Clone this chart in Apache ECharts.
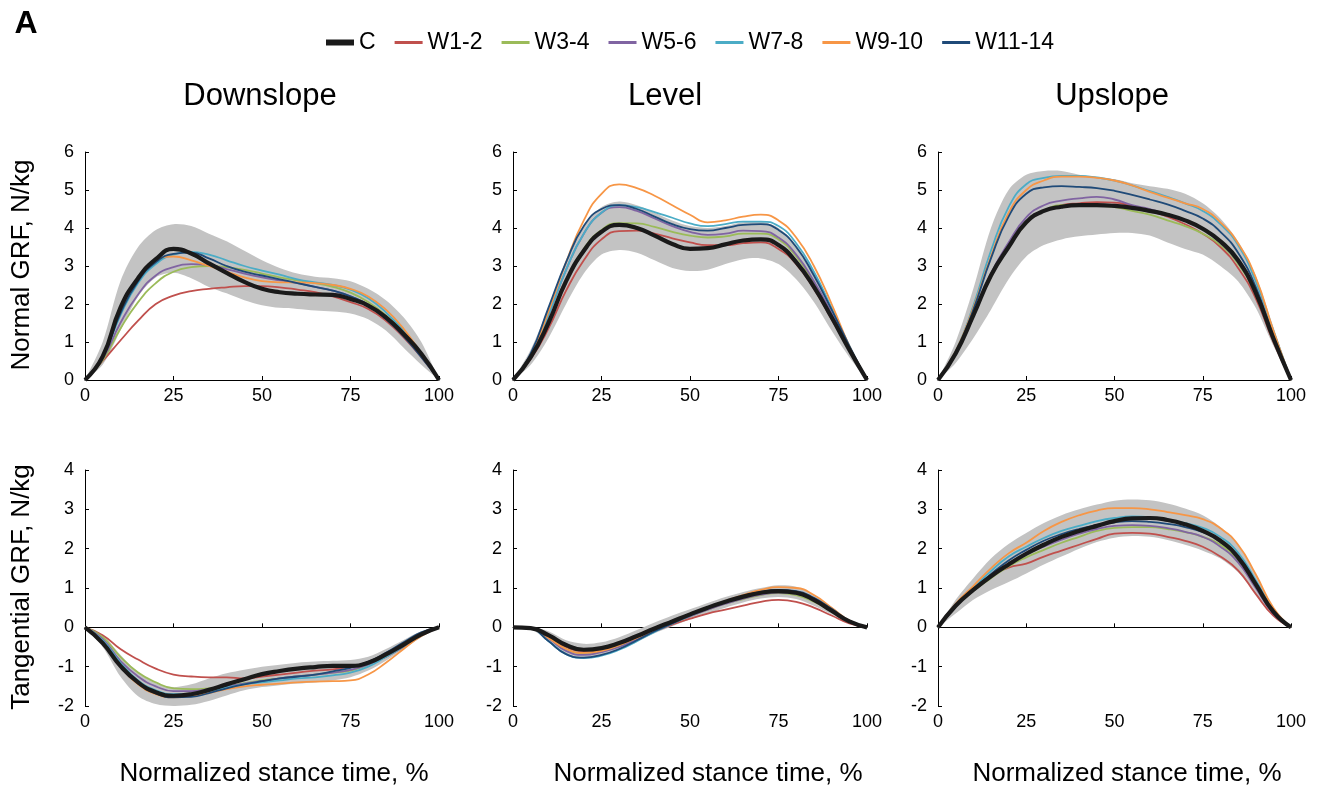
<!DOCTYPE html>
<html>
<head>
<meta charset="utf-8">
<script src="https://cdn.jsdelivr.net/npm/echarts@6/dist/echarts.min.js"></script>
<style>
  html, body { margin: 0; padding: 0; background: #fff; }
  #chart { width: 1317px; height: 790px; }
</style>
</head>
<body>
<div id="chart"></div>
<script>
// GRF curves by slope, mean lines per group + grey SD band of the control group
const xs = [0, 5, 10, 15, 20, 25, 30, 35, 40, 45, 50, 55, 60, 65, 70, 75, 80, 85, 90, 95, 100];
const groups = ['C', 'W1-2', 'W3-4', 'W5-6', 'W7-8', 'W9-10', 'W11-14'];
const groupColors = ['#1a1a1a', '#c0504d', '#9bbb59', '#8064a2', '#4bacc6', '#f79646', '#1f4a78'];
const panelTitles = ['Downslope', 'Level', 'Upslope'];

// Downslope, normal GRF (rows follow groups order)
const downNormal = [
  [0, 0.62, 1.9, 2.68, 3.18, 3.45, 3.33, 3.07, 2.82, 2.58, 2.4, 2.31, 2.27, 2.25, 2.24, 2.13, 1.96, 1.65, 1.21, 0.69, 0],
  [0, 0.5, 1.04, 1.56, 2.0, 2.22, 2.34, 2.4, 2.44, 2.47, 2.47, 2.44, 2.38, 2.31, 2.2, 2.05, 1.87, 1.56, 1.12, 0.6, 0],
  [0, 0.52, 1.35, 2.05, 2.55, 2.85, 2.97, 3.0, 2.97, 2.9, 2.8, 2.7, 2.62, 2.55, 2.45, 2.3, 2.05, 1.7, 1.25, 0.65, 0],
  [0, 0.56, 1.5, 2.25, 2.75, 2.97, 3.05, 3.03, 2.92, 2.8, 2.7, 2.62, 2.55, 2.45, 2.35, 2.2, 1.98, 1.65, 1.2, 0.65, 0],
  [0, 0.6, 1.7, 2.55, 3.05, 3.3, 3.37, 3.3, 3.15, 3.0, 2.88, 2.77, 2.65, 2.57, 2.5, 2.38, 2.15, 1.78, 1.3, 0.7, 0],
  [0, 0.65, 1.85, 2.7, 3.15, 3.25, 3.15, 3.0, 2.85, 2.7, 2.6, 2.57, 2.57, 2.55, 2.5, 2.4, 2.2, 1.85, 1.35, 0.7, 0],
  [0, 0.62, 1.75, 2.6, 3.1, 3.32, 3.35, 3.2, 3.0, 2.85, 2.75, 2.65, 2.55, 2.45, 2.35, 2.2, 1.98, 1.6, 1.15, 0.6, 0]
];
const downNormalLow = [0, 0.4, 1.3, 2.2, 2.7, 2.82, 2.68, 2.45, 2.28, 2.1, 1.97, 1.9, 1.87, 1.83, 1.8, 1.75, 1.6, 1.3, 0.85, 0.4, 0];
const downNormalHigh = [0, 1.0, 2.6, 3.5, 3.95, 4.1, 4.05, 3.85, 3.65, 3.4, 3.15, 2.95, 2.8, 2.72, 2.68, 2.6, 2.4, 2.1, 1.65, 1.0, 0];

// Level, normal GRF
const levelNormal = [
  [0, 0.6, 1.5, 2.6, 3.4, 3.9, 4.08, 4.0, 3.8, 3.58, 3.45, 3.47, 3.57, 3.67, 3.7, 3.55, 3.1, 2.45, 1.65, 0.8, 0],
  [0, 0.55, 1.35, 2.35, 3.15, 3.7, 3.92, 3.93, 3.85, 3.73, 3.62, 3.55, 3.55, 3.6, 3.62, 3.45, 3.05, 2.4, 1.6, 0.8, 0],
  [0, 0.6, 1.5, 2.6, 3.45, 3.95, 4.13, 4.12, 4.03, 3.9, 3.8, 3.75, 3.78, 3.85, 3.85, 3.7, 3.25, 2.55, 1.7, 0.85, 0],
  [0, 0.65, 1.7, 2.9, 3.85, 4.4, 4.55, 4.45, 4.25, 4.05, 3.9, 3.82, 3.85, 3.93, 3.92, 3.75, 3.3, 2.6, 1.75, 0.85, 0],
  [0, 0.65, 1.7, 2.9, 3.85, 4.4, 4.6, 4.55, 4.42, 4.27, 4.12, 4.05, 4.1, 4.17, 4.17, 4.05, 3.6, 2.85, 1.9, 0.9, 0],
  [0, 0.65, 1.8, 3.1, 4.2, 4.9, 5.15, 5.05, 4.85, 4.6, 4.35, 4.15, 4.2, 4.3, 4.35, 4.2, 3.75, 3.0, 2.0, 0.9, 0],
  [0, 0.7, 1.9, 3.1, 4.05, 4.5, 4.6, 4.5, 4.3, 4.1, 3.97, 3.93, 4.0, 4.08, 4.1, 3.95, 3.5, 2.75, 1.85, 0.9, 0]
];
const levelNormalLow = [0, 0.4, 1.1, 2.0, 2.8, 3.3, 3.42, 3.35, 3.15, 2.95, 2.87, 2.9, 3.05, 3.18, 3.2, 3.05, 2.65, 2.05, 1.3, 0.6, 0];
const levelNormalHigh = [0, 0.8, 1.9, 3.1, 4.05, 4.55, 4.7, 4.6, 4.4, 4.2, 4.05, 4.0, 4.05, 4.15, 4.17, 4.0, 3.55, 2.85, 1.9, 0.95, 0];

// Upslope, normal GRF
const upNormal = [
  [0, 0.7, 1.7, 2.75, 3.5, 4.15, 4.45, 4.56, 4.6, 4.6, 4.58, 4.53, 4.45, 4.35, 4.2, 3.98, 3.65, 3.15, 2.3, 1.1, 0],
  [0, 0.68, 1.68, 2.72, 3.48, 4.12, 4.45, 4.6, 4.65, 4.68, 4.67, 4.58, 4.45, 4.3, 4.1, 3.85, 3.5, 2.95, 2.15, 1.0, 0],
  [0, 0.68, 1.68, 2.72, 3.48, 4.12, 4.45, 4.6, 4.6, 4.58, 4.55, 4.45, 4.35, 4.2, 4.05, 3.85, 3.55, 3.05, 2.25, 1.05, 0],
  [0, 0.7, 1.72, 2.8, 3.62, 4.28, 4.6, 4.72, 4.78, 4.82, 4.75, 4.6, 4.5, 4.35, 4.2, 3.98, 3.6, 3.1, 2.3, 1.1, 0],
  [0, 0.75, 1.95, 3.4, 4.55, 5.15, 5.32, 5.37, 5.37, 5.33, 5.25, 5.12, 4.97, 4.82, 4.65, 4.45, 4.1, 3.55, 2.6, 1.3, 0],
  [0, 0.75, 1.9, 3.25, 4.4, 5.0, 5.25, 5.35, 5.35, 5.32, 5.25, 5.12, 4.95, 4.8, 4.65, 4.5, 4.15, 3.6, 2.7, 1.3, 0],
  [0, 0.72, 1.85, 3.2, 4.3, 4.9, 5.07, 5.1, 5.08, 5.05, 4.98, 4.87, 4.75, 4.62, 4.45, 4.25, 3.9, 3.35, 2.45, 1.15, 0]
];
const upNormalLow = [0, 0.45, 1.1, 1.85, 2.65, 3.25, 3.55, 3.7, 3.78, 3.83, 3.87, 3.87, 3.8, 3.62, 3.45, 3.3, 3.0, 2.6, 1.9, 0.9, 0];
const upNormalHigh = [0, 1.0, 2.4, 4.0, 5.0, 5.4, 5.5, 5.5, 5.4, 5.33, 5.28, 5.18, 5.1, 5.03, 4.9, 4.65, 4.25, 3.65, 2.75, 1.4, 0];

// Downslope, tangential GRF
const downTang = [
  [0, -0.4, -0.98, -1.4, -1.65, -1.74, -1.7, -1.59, -1.45, -1.32, -1.19, -1.11, -1.05, -1.01, -0.98, -0.98, -0.9, -0.69, -0.44, -0.18, 0],
  [0, -0.2, -0.55, -0.82, -1.05, -1.2, -1.25, -1.27, -1.27, -1.3, -1.25, -1.2, -1.15, -1.1, -1.07, -1.0, -0.9, -0.72, -0.47, -0.2, 0],
  [0, -0.25, -0.75, -1.15, -1.4, -1.55, -1.57, -1.55, -1.5, -1.42, -1.35, -1.3, -1.25, -1.2, -1.15, -1.1, -0.95, -0.75, -0.5, -0.2, 0],
  [0, -0.3, -0.85, -1.25, -1.5, -1.62, -1.62, -1.57, -1.5, -1.43, -1.37, -1.3, -1.25, -1.2, -1.15, -1.08, -0.95, -0.75, -0.5, -0.2, 0],
  [0, -0.33, -0.9, -1.35, -1.6, -1.7, -1.7, -1.62, -1.53, -1.45, -1.4, -1.35, -1.3, -1.27, -1.22, -1.15, -1.0, -0.75, -0.48, -0.18, 0],
  [0, -0.4, -1.0, -1.45, -1.7, -1.78, -1.75, -1.67, -1.57, -1.5, -1.46, -1.43, -1.4, -1.38, -1.37, -1.35, -1.2, -0.9, -0.55, -0.22, 0],
  [0, -0.38, -0.97, -1.42, -1.68, -1.78, -1.77, -1.67, -1.55, -1.45, -1.37, -1.3, -1.25, -1.2, -1.12, -1.03, -0.88, -0.65, -0.38, -0.13, 0]
];
const downTangLow = [0, -0.5, -1.25, -1.75, -1.95, -2.0, -1.97, -1.87, -1.73, -1.6, -1.52, -1.47, -1.43, -1.4, -1.35, -1.27, -1.1, -0.85, -0.55, -0.25, 0];
const downTangHigh = [0, -0.2, -0.7, -1.15, -1.42, -1.52, -1.45, -1.3, -1.17, -1.08, -1.0, -0.95, -0.9, -0.87, -0.85, -0.83, -0.75, -0.55, -0.32, -0.1, 0];

// Level, tangential GRF
const levelTang = [
  [0, -0.02, -0.2, -0.45, -0.57, -0.53, -0.4, -0.22, -0.03, 0.15, 0.33, 0.5, 0.65, 0.78, 0.88, 0.92, 0.88, 0.7, 0.42, 0.15, 0],
  [0, -0.02, -0.25, -0.5, -0.6, -0.57, -0.45, -0.28, -0.1, 0.07, 0.22, 0.35, 0.45, 0.55, 0.65, 0.7, 0.65, 0.5, 0.3, 0.1, 0],
  [0, -0.02, -0.25, -0.55, -0.65, -0.6, -0.47, -0.28, -0.08, 0.1, 0.28, 0.45, 0.6, 0.72, 0.82, 0.87, 0.82, 0.65, 0.4, 0.13, 0],
  [0, -0.02, -0.28, -0.6, -0.7, -0.63, -0.5, -0.3, -0.1, 0.1, 0.28, 0.45, 0.6, 0.73, 0.83, 0.88, 0.85, 0.68, 0.42, 0.14, 0],
  [0, -0.03, -0.35, -0.68, -0.78, -0.72, -0.57, -0.35, -0.12, 0.1, 0.3, 0.48, 0.64, 0.78, 0.88, 0.93, 0.9, 0.72, 0.45, 0.15, 0],
  [0, -0.02, -0.27, -0.55, -0.65, -0.6, -0.45, -0.27, -0.07, 0.13, 0.32, 0.5, 0.67, 0.82, 0.95, 1.02, 1.0, 0.82, 0.5, 0.17, 0],
  [0, -0.03, -0.35, -0.68, -0.77, -0.7, -0.55, -0.33, -0.1, 0.1, 0.3, 0.48, 0.65, 0.8, 0.9, 0.95, 0.92, 0.75, 0.47, 0.16, 0]
];
const levelTangLow = [0, -0.05, -0.35, -0.68, -0.78, -0.72, -0.57, -0.37, -0.15, 0.03, 0.2, 0.35, 0.5, 0.63, 0.73, 0.77, 0.72, 0.55, 0.33, 0.1, 0];
const levelTangHigh = [0, 0, -0.1, -0.33, -0.42, -0.38, -0.25, -0.07, 0.12, 0.3, 0.46, 0.62, 0.77, 0.9, 1.0, 1.07, 1.03, 0.83, 0.52, 0.2, 0];

// Upslope, tangential GRF
const upTang = [
  [0, 0.55, 0.95, 1.3, 1.6, 1.87, 2.1, 2.3, 2.45, 2.58, 2.7, 2.77, 2.78, 2.73, 2.62, 2.45, 2.2, 1.78, 1.1, 0.4, 0],
  [0, 0.55, 0.95, 1.3, 1.52, 1.62, 1.8, 1.95, 2.1, 2.25, 2.38, 2.4, 2.38, 2.3, 2.2, 2.05, 1.8, 1.45, 0.85, 0.3, 0],
  [0, 0.55, 0.93, 1.25, 1.55, 1.78, 1.97, 2.15, 2.3, 2.45, 2.53, 2.55, 2.55, 2.5, 2.42, 2.3, 2.1, 1.7, 1.05, 0.38, 0],
  [0, 0.55, 0.97, 1.3, 1.62, 1.87, 2.05, 2.23, 2.38, 2.5, 2.58, 2.6, 2.58, 2.52, 2.43, 2.3, 2.05, 1.65, 1.0, 0.35, 0],
  [0, 0.57, 1.0, 1.43, 1.8, 2.05, 2.27, 2.45, 2.58, 2.7, 2.78, 2.82, 2.8, 2.73, 2.65, 2.53, 2.3, 1.9, 1.2, 0.45, 0],
  [0, 0.6, 1.05, 1.5, 1.88, 2.15, 2.45, 2.68, 2.85, 2.97, 3.03, 3.03, 3.0, 2.93, 2.85, 2.75, 2.52, 2.1, 1.35, 0.5, 0],
  [0, 0.55, 0.97, 1.35, 1.7, 1.97, 2.2, 2.37, 2.5, 2.6, 2.67, 2.7, 2.68, 2.63, 2.55, 2.42, 2.2, 1.8, 1.12, 0.4, 0]
];
const upTangLow = [0, 0.35, 0.7, 0.95, 1.15, 1.37, 1.6, 1.8, 2.0, 2.17, 2.28, 2.32, 2.3, 2.22, 2.1, 1.95, 1.75, 1.4, 0.85, 0.3, 0];
const upTangHigh = [0, 0.7, 1.25, 1.75, 2.12, 2.4, 2.65, 2.85, 3.0, 3.12, 3.22, 3.25, 3.23, 3.15, 3.02, 2.85, 2.55, 2.1, 1.35, 0.5, 0];

const FONT = 'Liberation Sans, Arial, sans-serif';

const panels = [
  { lines: downNormal, low: downNormalLow, high: downNormalHigh, row: 0, col: 0 },
  { lines: levelNormal, low: levelNormalLow, high: levelNormalHigh, row: 0, col: 1 },
  { lines: upNormal, low: upNormalLow, high: upNormalHigh, row: 0, col: 2 },
  { lines: downTang, low: downTangLow, high: downTangHigh, row: 1, col: 0 },
  { lines: levelTang, low: levelTangLow, high: levelTangHigh, row: 1, col: 1 },
  { lines: upTang, low: upTangLow, high: upTangHigh, row: 1, col: 2 }
];

const colLeft = [85, 513, 938];
const colWidth = [354, 354, 353];
const rowTop = [152, 470];
const rowHeight = [228, 236];

const pairs = ys => xs.map((x, i) => [x, ys[i]]);

const grids = [], xAxes = [], yAxes = [], series = [];

panels.forEach((p, idx) => {
  grids.push({
    left: colLeft[p.col], top: rowTop[p.row],
    width: colWidth[p.col], height: rowHeight[p.row]
  });
  xAxes.push({
    gridIndex: idx, type: 'value', min: 0, max: 100, interval: 25,
    axisLine: { onZero: true, lineStyle: { color: '#000', width: 1 } },
    axisTick: { show: true, inside: true, length: 4, lineStyle: { color: '#000' } },
    axisLabel: { color: '#000', fontSize: 18, fontFamily: FONT, margin: 7 },
    splitLine: { show: false }
  });
  yAxes.push({
    gridIndex: idx, type: 'value',
    min: p.row === 0 ? 0 : -2, max: p.row === 0 ? 6 : 4, interval: 1,
    axisLine: { show: true, onZero: false, lineStyle: { color: '#000', width: 1 } },
    axisTick: { show: true, inside: true, length: 4, lineStyle: { color: '#000' } },
    axisLabel: { color: '#000', fontSize: 18, fontFamily: FONT, margin: 11 },
    splitLine: { show: false }
  });

  // grey SD band as one polygon, corners mapped through the axes
  const low = p.low, high = p.high;
  series.push({
    type: 'custom', xAxisIndex: idx, yAxisIndex: idx, silent: true, z: 1,
    data: xs.map((x, i) => [x, low[i], high[i]]),
    renderItem: (params, api) => {
      if (params.dataIndex !== 0) return;
      const top = xs.map((x, i) => api.coord([x, high[i]]));
      const bot = xs.map((x, i) => api.coord([x, low[i]])).reverse();
      return {
        type: 'polygon',
        shape: { points: top.concat(bot), smooth: 0.3 },
        style: { fill: '#c3c3c3', stroke: null }
      };
    }
  });

  // group lines, control drawn last so it sits on top
  const order = [1, 2, 3, 4, 5, 6, 0];
  order.forEach(g => {
    series.push({
      name: groups[g], type: 'line', xAxisIndex: idx, yAxisIndex: idx,
      data: pairs(p.lines[g]), smooth: true, symbol: 'none',
      lineStyle: { color: groupColors[g], width: g === 0 ? 4.2 : 1.8 },
      itemStyle: { color: groupColors[g] },
      z: g === 0 ? 4 : 3
    });
  });
});

const textEl = (text, x, y, size, extra) => Object.assign({
  type: 'text', x: x, y: y,
  style: {
    text: text, fill: '#000', fontSize: size, fontFamily: FONT,
    align: 'center', verticalAlign: 'middle', textAlign: 'center', textVerticalAlign: 'middle'
  }
}, extra || {});

const graphics = [
  textEl('A', 26, 24, 32, {}),
  textEl(panelTitles[0], 260, 96, 31),
  textEl(panelTitles[1], 665, 96, 31),
  textEl(panelTitles[2], 1112, 96, 31),
  textEl('Normalized stance time, %', 274, 774, 26),
  textEl('Normalized stance time, %', 708, 774, 26),
  textEl('Normalized stance time, %', 1127, 774, 26),
  textEl('Normal GRF, N/kg', 22, 265, 26, { rotation: Math.PI / 2 }),
  textEl('Tangential GRF, N/kg', 22, 587, 26, { rotation: Math.PI / 2 })
];
graphics[0].style.fontWeight = 'bold';

// legend swatches: thick bar for C, thin bar for the others (tiny corner dots keep the box 28x6)
const thickIcon = 'path://M0,0H28V6H0Z';
const thinIcon = 'path://M0,0H0.01V0.01H0Z M0,1.5H28V4.5H0Z M27.99,5.99H28V6H27.99Z';

const chart = echarts.init(document.getElementById('chart'), null, { renderer: 'canvas' });
chart.setOption({
  backgroundColor: '#fff',
  animation: false,
  legend: {
    left: 321, top: 26,
    itemWidth: 28, itemHeight: 6, itemGap: 19,
    textStyle: { color: '#000', fontSize: 23, fontFamily: FONT },
    data: groups.map((g, i) => ({
      name: g,
      icon: i === 0 ? thickIcon : thinIcon,
      itemStyle: { color: groupColors[i], borderWidth: 0 }
    }))
  },
  grid: grids,
  xAxis: xAxes,
  yAxis: yAxes,
  series: series,
  graphic: graphics
});
</script>
</body>
</html>
